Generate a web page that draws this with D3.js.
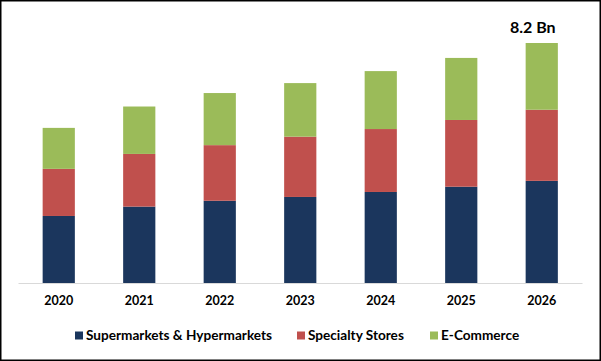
<!DOCTYPE html>
<html>
<head>
<meta charset="utf-8">
<script src="https://cdn.jsdelivr.net/npm/d3@7"></script>
<style>
  html, body { margin: 0; padding: 0; background: #fff; }
  svg { display: block; font-family: Lato, "Open Sans", sans-serif; font-weight: bold; }
</style>
</head>
<body>
<div id="chart"></div>
<script>
// Stacked bar chart: market by distribution channel, 2020-2026 (USD Bn)
const YEARS = ["2020", "2021", "2022", "2023", "2024", "2025", "2026"];
const SERIES = ["Supermarkets & Hypermarkets", "Specialty Stores", "E-Commerce"];
const SUPERMARKETS = [2.29, 2.61, 2.81, 2.94, 3.11, 3.29, 3.49];
const SPECIALTY = [1.61, 1.80, 1.90, 2.06, 2.15, 2.28, 2.43];
const ECOMMERCE = [1.40, 1.62, 1.78, 1.83, 1.98, 2.12, 2.28];
const TOTAL_LABEL = "8.2 Bn";
const COLORS = ["#1b365d", "#c0504d", "#9bbb59"];

const width = 601, height = 361;
const baseY = 283, topY = 43;

const rows = YEARS.map((y, i) => ({
  year: y,
  [SERIES[0]]: SUPERMARKETS[i],
  [SERIES[1]]: SPECIALTY[i],
  [SERIES[2]]: ECOMMERCE[i]
}));
const stacked = d3.stack().keys(SERIES)(rows);
const maxTotal = d3.max(stacked[stacked.length - 1], d => d[1]);

const x = d3.scaleBand().domain(YEARS).range([18.5, 582]).paddingInner(0.6).paddingOuter(0.3);
const y = d3.scaleLinear().domain([0, maxTotal]).range([baseY, topY]);
const color = d3.scaleOrdinal().domain(SERIES).range(COLORS);

const svg = d3.select("#chart").append("svg").attr("width", width).attr("height", height);

svg.append("rect").attr("x", 0.75).attr("y", 0.75).attr("width", width - 1.5).attr("height", height - 1.5)
  .attr("fill", "#fff").attr("stroke", "#000").attr("stroke-width", 1.5);

svg.append("g").selectAll("g").data(stacked).join("g")
  .attr("fill", d => color(d.key))
  .selectAll("rect").data(d => d).join("rect")
  .attr("x", d => x(d.data.year)).attr("width", x.bandwidth())
  .attr("y", d => y(d[1])).attr("height", d => y(d[0]) - y(d[1]));

// baseline
svg.append("line").attr("x1", 18.5).attr("x2", 582.5).attr("y1", baseY + 0.5).attr("y2", baseY + 0.5)
  .attr("stroke", "#d9d9d9").attr("stroke-width", 1);

// year labels
const xAxis = svg.append("g").attr("transform", `translate(0,${baseY})`)
  .call(d3.axisBottom(x).tickSize(0).tickPadding(13));
xAxis.select(".domain").remove();
xAxis.selectAll("text").attr("font-size", 12.5).attr("font-family", "Lato, sans-serif")
  .attr("font-weight", "bold").attr("fill", "#000");

// total label over last bar
const last = YEARS[YEARS.length - 1];
svg.append("text").attr("x", x(last) + x.bandwidth() / 2 - 9).attr("y", y(maxTotal) - 10)
  .attr("text-anchor", "middle").attr("font-size", 16).attr("fill", "#000").text(TOTAL_LABEL);

// legend
const legendX = [75, 297, 430];
const legend = svg.append("g").selectAll("g").data(SERIES).join("g")
  .attr("transform", (d, i) => `translate(${legendX[i]},335.5)`);
legend.append("rect").attr("x", 0).attr("y", -4).attr("width", 8).attr("height", 8).attr("fill", d => color(d));
legend.append("text").attr("x", 11).attr("y", 4.8).attr("font-size", 13.6).attr("fill", "#000").text(d => d);
</script>
</body>
</html>
